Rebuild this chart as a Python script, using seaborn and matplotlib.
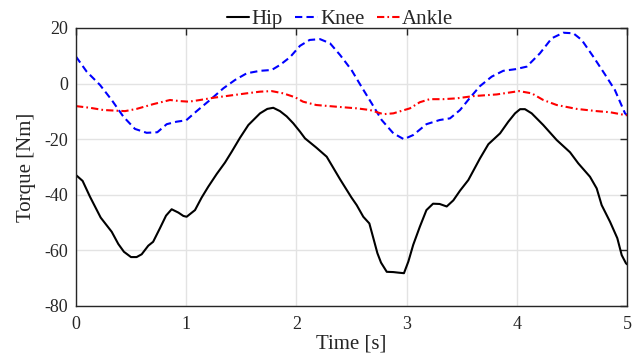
import numpy as np
import pandas as pd
import seaborn as sns
import matplotlib
matplotlib.use("Agg")
import matplotlib.pyplot as plt

# Joint torque traces sampled over a 5 s walking interval
hip_t = [0.0, 0.06, 0.127, 0.224, 0.324, 0.384, 0.435, 0.499, 0.55, 0.596, 0.656, 0.70,
         0.762, 0.817, 0.868, 0.929, 0.974, 1.004, 1.08, 1.14, 1.2, 1.277, 1.352, 1.413,
         1.488, 1.564, 1.67, 1.736, 1.79, 1.851, 1.912, 1.972, 2.033, 2.078, 2.18, 2.275,
         2.396, 2.50, 2.547, 2.607, 2.662, 2.699, 2.735, 2.768, 2.82, 2.88, 2.925, 2.976,
         3.016, 3.06, 3.12, 3.18, 3.24, 3.30, 3.364, 3.424, 3.485, 3.56, 3.666, 3.742,
         3.848, 3.923, 3.984, 4.03, 4.074, 4.135, 4.24, 4.362, 4.483, 4.558, 4.664, 4.725,
         4.77, 4.846, 4.912, 4.952, 4.99, 5.0]
hip_v = [-32.9, -35.0, -40.7, -48.2, -53.3, -57.7, -60.5, -62.4, -62.4, -61.4, -58.3, -56.9,
         -52.0, -47.5, -45.2, -46.4, -47.6, -47.9, -45.5, -41.0, -37.1, -32.5, -28.4, -24.5,
         -19.5, -14.9, -10.7, -9.1, -8.7, -9.9, -11.8, -14.3, -17.3, -19.7, -23.0, -26.3,
         -34.4, -41.0, -43.7, -47.9, -50.3, -55.7, -61.0, -64.4, -67.7, -67.8, -68.0, -68.2,
         -64.0, -58.0, -51.5, -45.5, -43.2, -43.3, -44.2, -42.0, -38.5, -34.7, -26.9, -21.8,
         -17.9, -13.7, -10.7, -9.2, -9.2, -10.7, -14.9, -20.3, -24.7, -28.7, -33.5, -37.7,
         -43.7, -49.7, -55.6, -61.7, -64.6, -65.0]

knee_t = [0.0, 0.097, 0.218, 0.324, 0.43, 0.535, 0.641, 0.738, 0.823, 0.913, 1.0, 1.095,
          1.216, 1.337, 1.443, 1.549, 1.67, 1.776, 1.851, 1.942, 2.033, 2.12, 2.214, 2.305,
          2.396, 2.50, 2.59, 2.683, 2.774, 2.88, 2.975, 3.06, 3.18, 3.30, 3.394, 3.485,
          3.575, 3.666, 3.772, 3.877, 3.99, 4.09, 4.21, 4.317, 4.422, 4.513, 4.589, 4.694,
          4.80, 4.89, 4.982, 5.0]
knee_v = [9.7, 4.3, -0.5, -5.9, -11.9, -16.3, -17.7, -17.5, -14.6, -13.7, -13.2, -9.9,
          -5.9, -1.7, 1.3, 3.7, 4.6, 4.9, 6.7, 9.5, 13.6, 15.7, 16.0, 14.5,
          10.3, 4.9, -1.1, -7.1, -13.1, -17.9, -20.0, -18.5, -14.6, -13.1, -12.5, -9.5,
          -5.1, -0.9, 2.5, 4.6, 5.2, 6.1, 10.9, 16.3, 18.3, 18.1, 15.7, 9.7,
          3.3, -2.3, -10.7, -11.3]

ankle_t = [0.0, 0.127, 0.248, 0.445, 0.55, 0.70, 0.853, 0.944, 1.025, 1.125, 1.246, 1.397,
           1.549, 1.67, 1.776, 1.88, 1.987, 2.06, 2.18, 2.36, 2.547, 2.668, 2.789, 2.88,
           2.98, 3.03, 3.12, 3.21, 3.33, 3.455, 3.605, 3.817, 4.02, 4.135, 4.24, 4.362,
           4.543, 4.725, 4.846, 4.982, 5.0]
ankle_v = [-8.1, -8.7, -9.5, -9.9, -9.1, -7.4, -5.9, -6.3, -6.5, -5.9, -5.1, -4.3,
           -3.5, -2.9, -2.7, -3.5, -4.9, -6.5, -7.7, -8.3, -8.9, -9.5, -11.0, -10.7,
           -9.5, -8.9, -6.7, -5.6, -5.6, -5.3, -4.5, -3.9, -2.7, -3.5, -5.9, -7.7,
           -9.1, -9.9, -10.3, -11.3, -11.4]

series = ["Hip", "Knee", "Ankle"]
colors = {"Hip": "black", "Knee": "#0000ff", "Ankle": "#ff0000"}
dashes = {"Hip": None, "Knee": (3.5, 2.0), "Ankle": (3.5, 1.5, 0.8, 1.5)}

x_ticks = [0, 1, 2, 3, 4, 5]
y_ticks = [-80, -60, -40, -20, 0, 20]

df = pd.concat([
    pd.DataFrame({"Time": hip_t, "Torque": hip_v, "Joint": "Hip"}),
    pd.DataFrame({"Time": knee_t, "Torque": knee_v, "Joint": "Knee"}),
    pd.DataFrame({"Time": ankle_t, "Torque": ankle_v, "Joint": "Ankle"}),
], ignore_index=True)

sns.set_style("white")
plt.rcParams["font.family"] = ["Liberation Serif", "DejaVu Serif"]

fig = plt.figure(figsize=(6.42, 3.62), dpi=100)
ax = fig.add_axes([76 / 642, 1 - 306 / 362, (627 - 76) / 642, (306 - 28) / 362])

for name in series:
    sub = df[df["Joint"] == name]
    sns.lineplot(data=sub, x="Time", y="Torque", ax=ax, color=colors[name],
                 linewidth=1.5, label=name, sort=False, estimator=None)
    line = ax.get_lines()[-1]
    if dashes[name] is not None:
        line.set_dashes(dashes[name])

ax.set_xlim(0, 5)
ax.set_ylim(-80, 20)
ax.set_xticks(x_ticks)
ax.set_yticks(y_ticks)
ax.set_xticklabels([str(v) for v in x_ticks])
ax.set_yticklabels([str(v) for v in y_ticks])
ax.grid(True, color="#e3e3e3", linewidth=1.0)
ax.set_axisbelow(True)
for side in ax.spines.values():
    side.set_visible(True)
    side.set_color("#262626")
    side.set_linewidth(1.0)
ax.tick_params(direction="in", length=5, width=1.0, color="#262626",
               top=True, right=True, labelsize=13, labelcolor="#262626")
ax.tick_params(axis="y", pad=5.5)
ax.tick_params(axis="x", pad=7)
ax.set_xlabel("Time [s]", fontsize=15, color="#262626", labelpad=1)
ax.set_ylabel("Torque [Nm]", fontsize=15, color="#262626", labelpad=6)

leg = ax.legend(loc="center", bbox_to_anchor=(340 / 642, 1 - 19 / 362),
                bbox_transform=fig.transFigure, ncol=3, frameon=False,
                fontsize=15, handlelength=1.1, handletextpad=0.1,
                columnspacing=0.6, borderpad=0.1)
for txt in leg.get_texts():
    txt.set_color("#262626")
for h in leg.get_lines():
    h.set_linewidth(1.5)

fig.savefig("out.png", dpi=100)
